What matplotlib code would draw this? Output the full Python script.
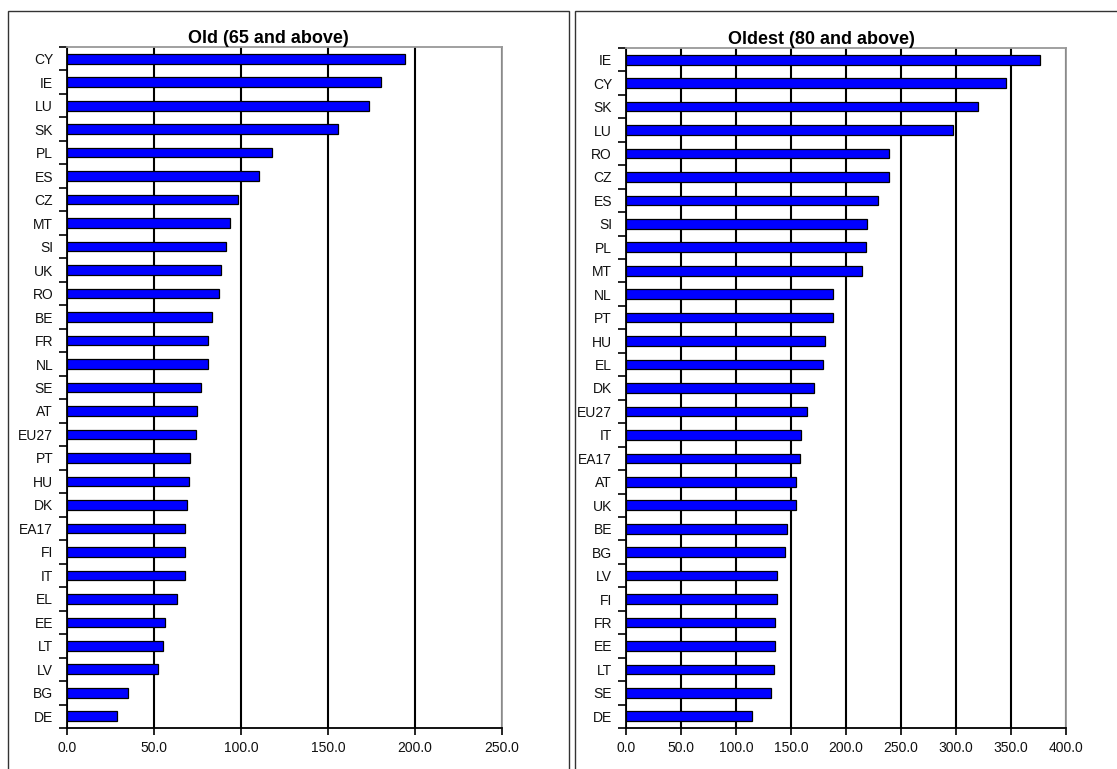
import matplotlib
matplotlib.use("Agg")
import matplotlib.pyplot as plt
import numpy as np
from matplotlib.patches import Rectangle
from matplotlib.ticker import FixedLocator, FormatStrFormatter

plt.rcParams["font.family"] = ["Liberation Sans", "DejaVu Sans"]

# =========================
# Data
# =========================
old_countries = ["CY", "IE", "LU", "SK", "PL", "ES", "CZ", "MT", "SI", "UK",
                 "RO", "BE", "FR", "NL", "SE", "AT", "EU27", "PT", "HU", "DK",
                 "EA17", "FI", "IT", "EL", "EE", "LT", "LV", "BG", "DE"]
old_values = [194.3, 180.2, 173.3, 155.9, 117.8, 110.2, 98.1, 93.5, 91.2, 88.7,
              87.4, 83.3, 81.0, 81.0, 77.2, 74.7, 74.1, 70.9, 70.1, 68.8,
              67.6, 67.6, 67.6, 63.2, 56.1, 55.2, 52.1, 35.1, 28.7]
old_ticks = [0, 50, 100, 150, 200, 250]

oldest_countries = ["IE", "CY", "SK", "LU", "RO", "CZ", "ES", "SI", "PL", "MT",
                    "NL", "PT", "HU", "EL", "DK", "EU27", "IT", "EA17", "AT", "UK",
                    "BE", "BG", "LV", "FI", "FR", "EE", "LT", "SE", "DE"]
oldest_values = [376.7, 345.8, 319.7, 297.2, 238.7, 238.7, 228.7, 219.0, 217.8, 215.0,
                 188.0, 188.0, 180.5, 179.3, 170.5, 164.4, 159.2, 158.3, 154.4, 154.4,
                 146.8, 144.7, 137.1, 137.1, 135.6, 135.6, 134.4, 131.9, 114.6]
oldest_ticks = [0, 50, 100, 150, 200, 250, 300, 350, 400]

# =========================
# Figure
# =========================
fig = plt.figure(figsize=(11.17, 7.69), dpi=100)

# outer chart frames
fig.add_artist(Rectangle((0.0072, -0.05), 0.5022, 1.0357, transform=fig.transFigure,
                         fill=False, edgecolor="#333333", linewidth=1.0))
fig.add_artist(Rectangle((0.5148, -0.05), 0.52, 1.0357, transform=fig.transFigure,
                         fill=False, edgecolor="#333333", linewidth=1.0))


def draw_panel(rect, countries, values, ticks, title, title_x):
    ax = fig.add_axes(rect)
    y = np.arange(len(countries))
    ax.barh(y, values, height=0.41, color="#0000FF", edgecolor="black",
            linewidth=0.9, zorder=3)
    ax.set_ylim(len(countries) - 0.5, -0.5)
    ax.set_xlim(ticks[0], ticks[-1])

    ax.set_yticks(y)
    ax.set_yticklabels(countries, fontsize=10, color="#111111")
    ax.tick_params(axis="y", which="major", length=0, pad=10)
    ax.yaxis.set_minor_locator(FixedLocator(np.arange(-0.5, len(countries), 1.0)))
    ax.tick_params(axis="y", which="minor", length=6, width=1.2, direction="out")

    ax.set_xticks(ticks)
    ax.xaxis.set_major_formatter(FormatStrFormatter("%.1f"))
    ax.tick_params(axis="x", length=5, width=1.2, direction="out", labelsize=10,
                   labelcolor="#111111", pad=4)

    ax.grid(axis="x", color="black", linewidth=1.5, zorder=0)
    ax.set_axisbelow(True)
    for side in ["left", "bottom"]:
        ax.spines[side].set_color("black")
        ax.spines[side].set_linewidth(1.3)
    for side in ["top", "right"]:
        ax.spines[side].set_color("#999999")
        ax.spines[side].set_linewidth(1.3)

    ax.set_title(title, fontsize=13, fontweight="bold", x=title_x, pad=1.5)
    return ax


draw_panel([0.060, 0.0533, 0.3894, 0.8856], old_countries, old_values, old_ticks,
           "Old (65 and above)", 0.464)
draw_panel([0.5604, 0.0533, 0.3939, 0.8843], oldest_countries, oldest_values, oldest_ticks,
           "Oldest (80 and above)", 0.445)

plt.savefig("out.png", dpi=100)
